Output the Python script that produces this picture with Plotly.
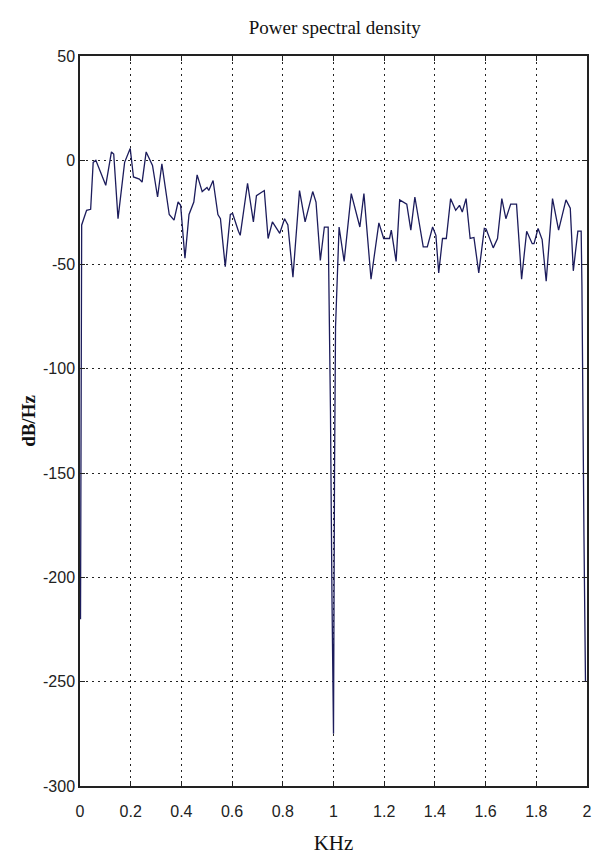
import plotly.graph_objects as go

freq_khz = [0.002, 0.0066, 0.026, 0.042, 0.052, 0.0625, 0.1016, 0.124, 0.133, 0.150,
            0.176, 0.198, 0.211, 0.234, 0.245, 0.261, 0.286, 0.306, 0.323, 0.352,
            0.371, 0.387, 0.397, 0.414, 0.430, 0.449, 0.462, 0.482, 0.501, 0.508,
            0.525, 0.544, 0.554, 0.573, 0.593, 0.602, 0.625, 0.632, 0.661, 0.684,
            0.696, 0.727, 0.742, 0.759, 0.788, 0.807, 0.820, 0.840, 0.866, 0.888,
            0.918, 0.931, 0.948, 0.964, 0.979, 0.988, 0.994, 1.000, 1.004, 1.008,
            1.022, 1.042, 1.070, 1.104, 1.120, 1.148, 1.179, 1.198, 1.221, 1.228,
            1.247, 1.261, 1.289, 1.305, 1.321, 1.335, 1.354, 1.370, 1.391, 1.404,
            1.415, 1.430, 1.445, 1.462, 1.482, 1.497, 1.508, 1.523, 1.539, 1.554,
            1.573, 1.595, 1.602, 1.630, 1.647, 1.664, 1.680, 1.699, 1.722, 1.742,
            1.762, 1.784, 1.791, 1.807, 1.823, 1.839, 1.864, 1.888, 1.917, 1.934,
            1.946, 1.964, 1.977, 1.980, 1.984, 1.988, 1.994]

psd_db = [-220, -31, -24, -23.5, -1, 0, -12, 4, 3, -28,
          -1, 5.7, -8, -9, -10.5, 4, -2.5, -17.6, -1.7, -26,
          -28.7, -20, -21.6, -47, -26, -20, -7, -15, -13, -14.5,
          -9.7, -26, -28, -51, -26, -25.5, -34, -36, -11, -29.5,
          -17, -14.5, -37.5, -29.5, -35, -28, -31, -56, -14.5, -29.5,
          -15, -20, -48, -32, -32, -120, -210, -275, -150, -80,
          -32, -48.5, -16, -32, -16, -57, -30, -37.5, -37.5, -33.5,
          -48.5, -19, -21, -33.5, -17.6, -28, -41.5, -41.5, -32, -36,
          -54, -37.5, -37.5, -18.4, -24, -21.6, -24.8, -18.4, -37.5, -37,
          -54, -32.7, -33, -42, -37.5, -18.4, -28, -21, -21, -57,
          -34, -40, -40, -32.7, -38, -58, -18.4, -33.5, -19, -23,
          -53, -34, -34, -60, -130, -180, -250]

x_ticks = [0, 0.2, 0.4, 0.6, 0.8, 1, 1.2, 1.4, 1.6, 1.8, 2]
y_ticks = [-300, -250, -200, -150, -100, -50, 0, 50]

fig = go.Figure()
fig.add_trace(go.Scatter(x=freq_khz, y=psd_db, mode="lines",
                         line=dict(color="#1c1c5c", width=1.3),
                         showlegend=False))

tick_font = dict(family="Liberation Sans", size=16, color="#222")
axis_common = dict(showline=True, linecolor="#222", linewidth=1.5, mirror="ticks",
                   ticks="inside", ticklen=5, tickcolor="#222",
                   showgrid=True, gridcolor="#222", griddash="1.5px,4.5px", gridwidth=1,
                   zeroline=False, tickfont=tick_font)

fig.update_layout(
    width=601, height=866,
    margin=dict(l=80, r=9, t=56, b=80),
    paper_bgcolor="white", plot_bgcolor="white",
    title=dict(text="Power spectral density", x=0.557, xanchor="center", y=0.968, yanchor="middle",
               font=dict(family="Liberation Serif, Times New Roman", size=19, color="#111")),
    xaxis=dict(range=[0, 2], tickvals=x_ticks, ticktext=[f"{v:g}" for v in x_ticks],
               ticklabelstandoff=10,
               title=dict(text="KHz", standoff=16,
                          font=dict(family="Liberation Serif, Times New Roman", size=21, color="#111")),
               **axis_common),
    yaxis=dict(range=[-300, 50], tickvals=y_ticks, ticktext=[str(v) for v in y_ticks],
               title=dict(text="<b>dB/Hz</b>", standoff=2,
                          font=dict(family="Liberation Serif, Times New Roman", size=19, color="#111")),
               **axis_common),
)

fig.write_html("out.html")
